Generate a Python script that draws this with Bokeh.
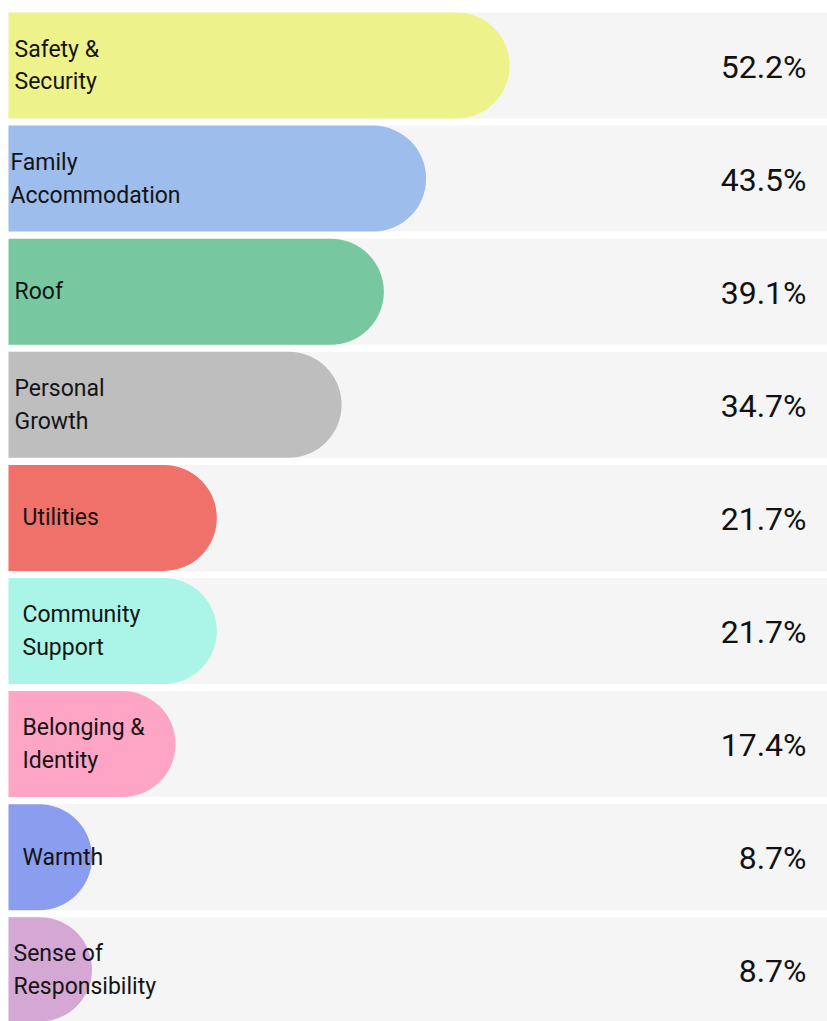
from bokeh.plotting import figure
from bokeh.models import Range1d, ColumnDataSource
from bokeh.core.properties import value
from bokeh.embed import file_html
from bokeh.resources import INLINE

# ---- data ----
categories = ["Safety &\nSecurity", "Family\nAccommodation", "Roof", "Personal\nGrowth",
              "Utilities", "Community\nSupport", "Belonging &\nIdentity", "Warmth",
              "Sense of\nResponsibility"]
percent = [52.2, 43.5, 39.1, 34.7, 21.7, 21.7, 17.4, 8.7, 8.7]
pct_labels = ["52.2%", "43.5%", "39.1%", "34.7%", "21.7%", "21.7%", "17.4%", "8.7%", "8.7%"]
colors = ["#eef28a", "#9dbdec", "#77c8a0", "#bebebe", "#ef7169",
          "#aaf5e7", "#fea5c5", "#8b9dee", "#d5a7d4"]

# ---- style ----
label_offsets = [6, 2, 6, 6, 14, 14, 14, 14, 5]

W, H = 827, 1021
LEFT = 8
PX_PER_UNIT = 9.6
PITCH = 113.1
xmin = -LEFT / PX_PER_UNIT
xmax = (W - LEFT) / PX_PER_UNIT
top = -65 / PITCH
bottom = top + H / PITCH

rows = list(range(len(categories)))
src = ColumnDataSource(dict(y=rows, v=percent, cat=categories, lab=pct_labels,
                            color=colors, full=[xmax * 1.5] * len(rows),
                            zero=[0] * len(rows), xr=[xmax] * len(rows),
                            off=label_offsets))

p = figure(width=W, height=H, output_backend="svg", toolbar_location=None,
           x_range=Range1d(xmin, xmax), y_range=Range1d(bottom, top),
           min_border=0, outline_line_color=None, background_fill_color="white",
           border_fill_color="white")
p.axis.visible = False
p.grid.visible = False

bh = 106 / PITCH
p.hbar(y="y", left="zero", right="full", height=bh, source=src,
       fill_color="#f5f5f5", line_color=None)
p.hbar(y="y", left="zero", right="v", height=bh, source=src,
       fill_color="color", line_color=None, border_radius=(0, 53, 53, 0))

p.text(x="zero", y="y", text="cat", source=src, x_offset="off",
       text_align="left", text_baseline="middle",
       text_font=value("Roboto"),
       text_font_size="23px", text_color="#141414", text_line_height=1.22)
p.text(x="xr", y="y", text="lab", source=src, x_offset=-21, y_offset=1,
       text_align="right", text_baseline="middle",
       text_font=value("Roboto"),
       text_font_size="32px", text_color="#111111")

open("out.html", "w").write(file_html(p, INLINE))
